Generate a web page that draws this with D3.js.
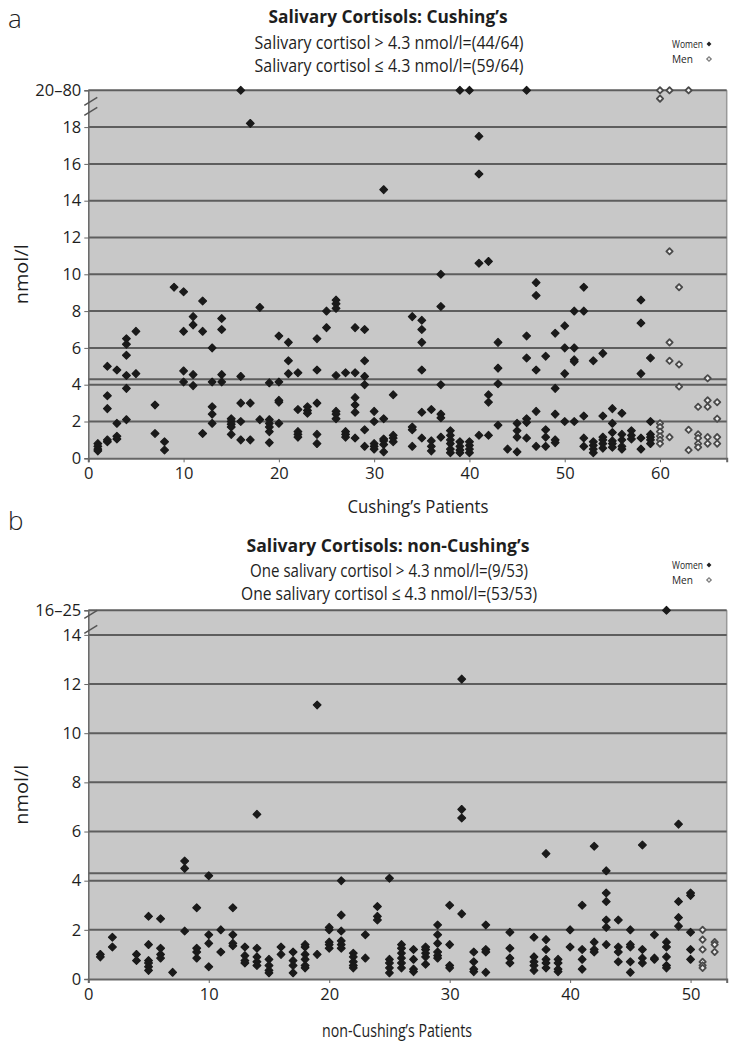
<!DOCTYPE html>
<html><head><meta charset="utf-8">
<script src="https://cdn.jsdelivr.net/npm/d3@7"></script>
<style>
body{margin:0;background:#fff;}
svg text{font-family:"Open Sans","Noto Sans",sans-serif;fill:#1e1e1e;}
</style></head><body>
<svg id="chart" width="741" height="1050"></svg>
<script>
// ---------- Panel a : Cushing's ----------
// values of 20 are plotted on the "20–80" band at the top of the axis
const cushingWomenIds = [1,2,3,4,5,7,8,9,10,11,12,13,14,15,16,17,18,19,20,21,22,23,24,25,26,27,28,29,30,31,32,34,35,36,37,38,39,40,41,42,43,44,45,46,47,48,49,50,51,52,53,54,55,56,57,58,59];
const cushingWomenValues = [
 [0.8,0.65,0.5,0.4],[5.0,3.4,2.7,1.0,0.9],[4.8,1.9,1.2,1.05],[6.5,6.2,5.6,4.5,3.8,2.1],[6.9,4.6],
 [2.9,1.35],[0.9,0.45],[9.3],[9.05,6.9,4.75,4.15],[7.7,7.25,4.55,3.95],[8.55,6.9,1.35],
 [6.0,4.15,2.8,2.4,1.9],[7.6,7.0,4.55,4.15],[2.15,2.0,1.85,1.7,1.3],[20,4.45,3.0,2.0,1.0],
 [18.2,3.0,1.0],[8.2,2.1],[4.1,2.1,1.9,1.7,1.45,0.85],[6.65,4.15,3.15,3.05,1.9],[6.3,5.3,4.6],
 [4.65,2.65,1.45,1.3,1.15],[2.8,2.6,2.45],[6.5,4.8,3.0,1.3,0.8],[8.0,7.1],[8.6,8.4,8.15,4.5,2.55,2.4,2.15],
 [4.65,1.45,1.3,1.15],[7.1,4.65,3.3,2.9,2.5,1.1],[7.0,5.3,4.45,4.0,1.55,0.65],[2.55,2.0,0.8,0.65,0.5],
 [14.6,2.15,1.05,0.95,0.75,0.35],[3.45,1.25,1.1,0.9],[7.7,1.7,1.55,0.65],[7.5,7.0,6.3,4.8,2.5,1.1],
 [2.65,0.95,0.65,0.4],[10.0,8.25,4.0,2.4,2.2,1.15],[1.5,1.25,1.0,0.8,0.5,0.3],[20,0.9,0.65,0.45,0.3],
 [20,0.9,0.7,0.5,0.3],[17.5,15.45,10.6,1.25],[10.7,3.45,3.05,1.25],[6.3,4.9,4.05,1.8],[0.5],
 [1.9,1.5,1.15,0.35],[20,6.65,5.45,2.15,1.95,1.1],[9.55,8.85,4.8,2.55,0.65],[5.55,1.55,1.15,0.65],
 [6.8,3.8,2.4,1.0,0.85],[7.2,6.0,4.6,2.0],[8.0,6.0,5.35,5.25,2.0],[9.3,8.0,2.3,1.1,0.65],
 [5.3,0.9,0.7,0.5,0.3],[5.7,2.3,1.15,1.0,0.8,0.55],[2.7,1.9,1.4,0.95,0.8,0.6],[2.45,1.3,1.0,0.65,0.5],
 [1.5,1.25,1.05],[8.6,7.35,4.6,1.1,0.5],[5.45,2.0,1.3,1.15,1.0,0.8]
];
const cushingMenIds = [60,61,62,63,64,65,66];
const cushingMenValues = [
 [20,19.55,1.9,1.7,1.45,1.2,1.0,0.8],[20,11.25,6.3,5.3,1.15],[9.3,5.1,3.9],[20,1.55,0.45],
 [2.8,1.3,1.1,0.8,0.6],[4.35,3.15,2.8,1.15,0.8],[3.05,2.15,1.15,0.8]
];
const cushingYTicks = [0,2,4,6,8,10,12,14,16,18];
const cushingXTicks = [0,10,20,30,40,50,60];
const cushingBreakLabel = "20–80";

// ---------- Panel b : non-Cushing's ----------
// value 15 is plotted on the "16–25" band at the top of the axis
const nonCushingWomenIds = [1,2,4,5,6,7,8,9,10,11,12,13,14,15,16,17,18,19,20,21,22,23,24,25,26,27,28,29,30,31,32,33,35,37,38,39,40,41,42,43,44,45,46,47,48,49,50];
const nonCushingWomenValues = [
 [1.0,0.9],[1.7,1.3],[1.0,0.75],[2.55,1.4,0.75,0.65,0.5,0.35],[2.45,1.25,1.0,0.85],[0.27],
 [4.8,4.5,1.95],[2.9,1.25,1.1,0.85],[4.2,1.8,1.45,0.5],[2.0,1.1],[2.9,1.8,1.45,1.35],
 [1.3,0.95,0.75,0.65],[6.7,1.25,0.9,0.7,0.55],[0.8,0.55,0.35,0.25],[1.3,1.0],[1.1,0.75,0.55,0.25],
 [1.4,1.3,1.0,0.8,0.55,0.45],[11.15,1.0],[2.1,2.0,1.5,1.4,1.25],[4.0,2.6,1.95,1.55,1.4,1.25],
 [1.05,0.9,0.7,0.55,0.45],[1.8,0.85],[2.95,2.55,2.4],[4.1,0.8,0.65,0.45,0.25],
 [1.4,1.25,1.05,0.85,0.65,0.45],[1.2,0.8,0.4,0.3],[1.3,1.2,1.05,0.9,0.6],[2.2,1.8,1.45,1.1,0.95,0.85],
 [3.0,1.4,0.55,0.45],[12.2,6.9,6.55,2.65],[1.1,0.7,0.4,0.3],[2.2,1.2,1.1,0.27],[1.9,1.25,0.85,0.65],
 [1.7,0.9,0.7,0.55,0.35],[5.1,1.6,1.2,0.8,0.65,0.45],[0.8,0.65,0.4,0.3],[2.0,1.3],[3.0,1.2,0.8,0.4],
 [5.4,1.5,1.2,1.1],[4.4,3.5,3.15,2.4,2.1,1.4],[2.4,1.3,1.1,0.7],[2.0,1.4,1.3,0.7,0.27],
 [5.45,1.2,0.85,0.65],[1.8,0.85,0.8],[15,1.5,1.3,0.9,0.55,0.45],[6.3,3.15,2.5,2.15],[3.5,3.4,1.9,1.2,0.8]
];
const nonCushingMenIds = [51,52];
const nonCushingMenValues = [[2.0,1.6,1.2,0.7,0.55,0.45],[1.5,1.4,1.1]];
const nonCushingYTicks = [0,2,4,6,8,10,12,14];
const nonCushingXTicks = [0,10,20,30,40,50];
const nonCushingBreakLabel = "16–25";

const threshold = 4.3;

const svg = d3.select("#chart");

function flatten(ids, vals){
  const out = [];
  ids.forEach((id,i)=>vals[i].forEach(v=>out.push({p:id,v:v})));
  return out;
}

function fitText(sel, w){
  return sel.attr("textLength",w).attr("lengthAdjust","spacingAndGlyphs");
}

function drawPanel(o){
  const g = svg.append("g");
  const x = d3.scaleLinear().domain([0,o.xMax]).range([88.3,726.7]);
  const y = d3.scaleLinear().domain([0,o.yMax]).range([o.bottom,o.top]);

  // panel letter
  g.append("text").attr("x",8).attr("y",o.letterY).attr("font-size",26)
    .attr("font-weight",300).text(o.letter);
  // titles
  fitText(g.append("text").attr("x",388).attr("y",o.titleY).attr("text-anchor","middle")
    .attr("font-size",18).attr("font-weight","bold").text(o.title), o.titleW);
  o.subs.forEach((s,i)=>{
    fitText(g.append("text").attr("x",389).attr("y",o.subY[i]).attr("text-anchor","middle")
      .attr("font-size",17.5).text(s), o.subW[i]);
  });
  // legend
  const lg = g.append("g").attr("transform",`translate(672,${o.legendY})`);
  fitText(lg.append("text").attr("x",0).attr("y",0).attr("font-size",11)
    .attr("font-family","Liberation Sans").text("Women"),31);
  fitText(lg.append("text").attr("x",0).attr("y",15).attr("font-size",11)
    .attr("font-family","Liberation Sans").text("Men"),21);
  lg.append("path").attr("d",d3.symbol(d3.symbolSquare,12)()).attr("transform","translate(37,-4) rotate(45)").attr("fill","#222");
  lg.append("path").attr("d",d3.symbol(d3.symbolSquare,10)()).attr("transform","translate(37,11) rotate(45)")
    .attr("fill","#eee").attr("stroke","#777").attr("stroke-width",1.2);

  // plot background
  g.append("rect").attr("x",x(0)).attr("y",y(o.yMax)).attr("width",x(o.xMax)-x(0))
    .attr("height",y(0)-y(o.yMax)).attr("fill","#c8c8c8");
  // right border
  g.append("line").attr("x1",x(o.xMax)).attr("x2",x(o.xMax)).attr("y1",y(o.yMax)).attr("y2",y(0))
    .attr("stroke","#999").attr("stroke-width",1.5);
  // gridlines
  const grid = o.yTicks.filter(v=>v>0).concat([o.yMax, threshold]);
  g.selectAll(".grid").data(grid).join("line")
    .attr("x1",x(0)).attr("x2",x(o.xMax)).attr("y1",d=>y(d)).attr("y2",d=>y(d))
    .attr("stroke","#5e5e5e").attr("stroke-width",2);

  // axes
  const yAxis = d3.axisLeft(y).tickValues(o.yTicks.concat([o.yMax]))
    .tickFormat(d=> d===o.yMax ? o.breakLabel : d).tickSize(4).tickPadding(3);
  const ya = g.append("g").attr("transform",`translate(${x(0)},0)`).call(yAxis);
  ya.select(".domain").attr("stroke","#666").attr("stroke-width",1.5);
  ya.selectAll(".tick line").attr("stroke","#666");
  ya.selectAll("text").attr("font-size",16.5).attr("fill","#1e1e1e");

  const xAxis = d3.axisBottom(x).tickValues(o.xTicks).tickSize(4).tickPadding(5);
  const xa = g.append("g").attr("transform",`translate(0,${y(0)})`).call(xAxis);
  xa.select(".domain").attr("stroke","#666").attr("stroke-width",2);
  xa.selectAll(".tick line").attr("stroke","#666");
  xa.selectAll("text").attr("font-size",16.5).attr("fill","#1e1e1e");

  // axis break slashes
  o.breaks.forEach(by=>{
    g.append("line").attr("x1",x(0)-4).attr("x2",x(0)+9).attr("y1",y(o.yMax)+by+5).attr("y2",y(o.yMax)+by-3)
      .attr("stroke","#555").attr("stroke-width",1.5);
  });

  // axis titles
  fitText(g.append("text").attr("x",o.xTitleX).attr("y",o.xTitleY).attr("text-anchor","middle")
    .attr("font-size",19).text(o.xTitle), o.xTitleW);
  fitText(g.append("text").attr("transform",`translate(28,${(y(0)+y(o.yMax))/2}) rotate(-90)`)
    .attr("text-anchor","middle").attr("font-size",19).text("nmol/l"), 60);

  // points
  const sym = d3.symbol(d3.symbolSquare,30)();
  g.selectAll(".w").data(flatten(o.wIds,o.wVals)).join("path")
    .attr("d",sym).attr("transform",d=>`translate(${x(d.p)},${y(d.v)}) rotate(45)`)
    .attr("fill","#1a1a1a").attr("stroke","#1a1a1a").attr("stroke-width",1.2).attr("stroke-linejoin","round");
  g.selectAll(".m").data(flatten(o.mIds,o.mVals)).join("path")
    .attr("d",d3.symbol(d3.symbolSquare,20)()).attr("transform",d=>`translate(${x(d.p)},${y(d.v)}) rotate(45)`)
    .attr("fill","#efefef").attr("stroke","#4a4a4a").attr("stroke-width",1.8).attr("stroke-linejoin","round");
}

drawPanel({
  letter:"a", letterY:28,
  title:"Salivary Cortisols: Cushing’s", titleY:23, titleW:239,
  subs:["Salivary cortisol > 4.3 nmol/l=(44/64)","Salivary cortisol ≤ 4.3 nmol/l=(59/64)"],
  subY:[49,72], subW:[269,269], legendY:48,
  xMax:67, yMax:20, top:90.3, bottom:458.3,
  yTicks:cushingYTicks, xTicks:cushingXTicks, breakLabel:cushingBreakLabel,
  breaks:[10,20],
  xTitle:"Cushing’s Patients", xTitleX:418, xTitleY:513, xTitleW:141,
  wIds:cushingWomenIds, wVals:cushingWomenValues, mIds:cushingMenIds, mVals:cushingMenValues
});
drawPanel({
  letter:"b", letterY:530,
  title:"Salivary Cortisols: non-Cushing’s", titleY:552, titleW:283,
  subs:["One salivary cortisol > 4.3 nmol/l=(9/53)","One salivary cortisol ≤ 4.3 nmol/l=(53/53)"],
  subY:[577,600], subW:[278,296], legendY:569,
  xMax:53, yMax:15, top:610.3, bottom:979,
  yTicks:nonCushingYTicks, xTicks:nonCushingXTicks, breakLabel:nonCushingBreakLabel,
  breaks:[3,18],
  xTitle:"non-Cushing’s Patients", xTitleX:397, xTitleY:1037, xTitleW:150,
  wIds:nonCushingWomenIds, wVals:nonCushingWomenValues, mIds:nonCushingMenIds, mVals:nonCushingMenValues
});
</script>
</body></html>
